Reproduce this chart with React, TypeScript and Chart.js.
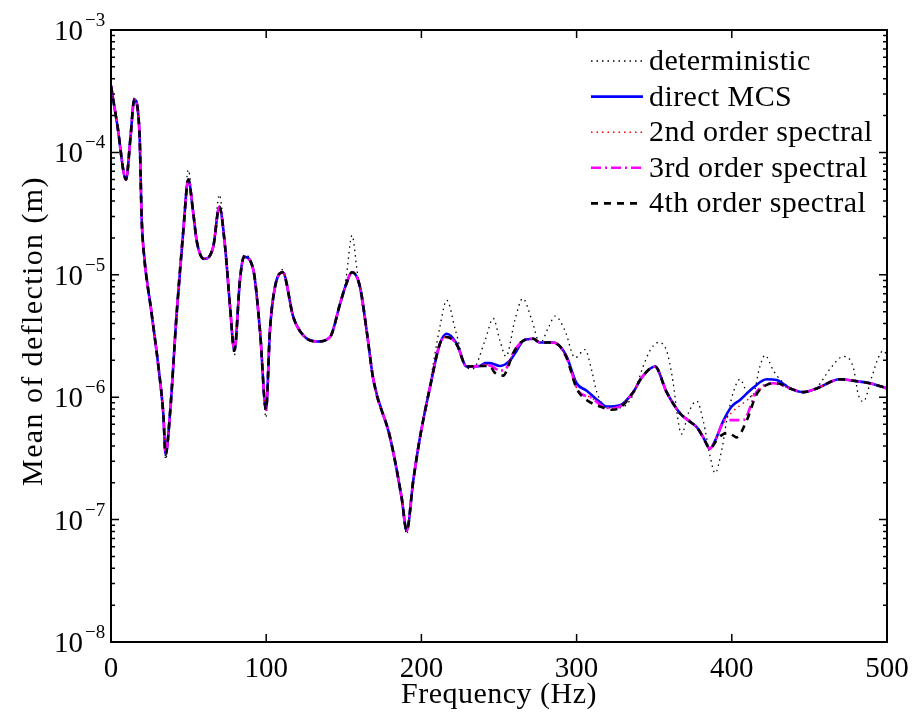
import React, { useEffect, useRef } from "react";
import { Chart, registerables } from "chart.js";

Chart.register(...registerables);

// ---------- data (frequency in Hz, mean deflection in m) ----------
// common part of direct MCS and spectral solutions (0 - 212 Hz)
const lowFreq = [0, 4, 9.7, 12.5, 15, 18.3, 19.8, 20.8, 26.2, 30.5, 33.7, 35.2, 38, 42.3, 46.6, 49.8, 53, 55.2, 59.9, 65.9, 69.8, 73.5, 76.7, 79.5, 83.1, 85.7, 91.7, 96, 99.9, 102.4, 105.7, 110.6, 117.5, 123.9, 132.5, 141.1, 147.6, 151, 155.3, 160.4, 165, 169, 179.8, 187.3, 190.5, 194.8, 199.1, 205.5, 212];
const lowMean = [3.5e-4, 1.7e-4, 6e-5, 1.3e-4, 2.7e-4, 1.5e-4, 2.8e-5, 1.7e-5, 4.8e-6, 1.8e-6, 7.3e-7, 3.4e-7, 7.3e-7, 4.8e-6, 2.3e-5, 6e-5, 3.2e-5, 1.9e-5, 1.35e-5, 1.7e-5, 3.6e-5, 1.7e-5, 5.5e-6, 2.4e-6, 9.1e-6, 1.4e-5, 1.1e-5, 3.5e-6, 7.9e-7, 3.5e-6, 8e-6, 1.05e-5, 4.5e-6, 3.2e-6, 2.85e-6, 3.1e-6, 5.8e-6, 8e-6, 1.05e-5, 8e-6, 3.3e-6, 1.4e-6, 4.7e-7, 1.5e-7, 8.1e-8, 2.1e-7, 4.7e-7, 1.2e-6, 2.75e-6];

const mcsTailFreq = [216.3, 222.7, 229.2, 237.8, 241, 244.2, 250.6, 257.1, 261.4, 265.7, 272.1, 276.4, 285, 289.3, 293.6, 300, 306.5, 315.1, 319.4, 328, 336.5, 342, 350.5, 358, 366.6, 373.1, 377.4, 381.6, 385.9, 390.2, 394.5, 399.9, 405.3, 413.9, 422.5, 428.9, 437.5, 446.1, 454.7, 469.7, 480.5, 489, 500];
const mcsTail = [3.3e-6, 2.75e-6, 1.78e-6, 1.8e-6, 1.9e-6, 1.9e-6, 1.8e-6, 2e-6, 2.4e-6, 2.9e-6, 3e-6, 2.8e-6, 2.8e-6, 2.6e-6, 2.15e-6, 1.3e-6, 1.13e-6, 9.1e-7, 8.4e-7, 8.6e-7, 1.1e-6, 1.45e-6, 1.78e-6, 1.1e-6, 7.4e-7, 6.3e-7, 5.7e-7, 4.7e-7, 3.8e-7, 4.7e-7, 6.4e-7, 8.4e-7, 9.5e-7, 1.2e-6, 1.4e-6, 1.38e-6, 1.18e-6, 1.1e-6, 1.18e-6, 1.4e-6, 1.35e-6, 1.3e-6, 1.18e-6];

const secondTailFreq = [216.3, 222.7, 229.2, 237.8, 241, 245, 250.6, 255, 259.2, 265.7, 272.1, 276.4, 285, 289.3, 293.6, 301.6, 309.1, 315.1, 322, 328, 336.5, 342, 350.5, 358, 366.6, 373.1, 377.4, 381.6, 385.9, 390.2, 395.5, 400, 405, 410, 415.9, 426.7, 437.5, 446.1, 454.7, 469.7, 480.5, 489, 500];
const secondTail = [3.1e-6, 2.7e-6, 1.78e-6, 1.8e-6, 1.85e-6, 1.8e-6, 1.65e-6, 1.75e-6, 2.3e-6, 2.9e-6, 3e-6, 2.8e-6, 2.8e-6, 2.6e-6, 2.1e-6, 1.1e-6, 1e-6, 8.7e-7, 8.1e-7, 8.4e-7, 1.1e-6, 1.45e-6, 1.78e-6, 1.1e-6, 7.4e-7, 6.3e-7, 5.7e-7, 4.7e-7, 3.8e-7, 4.7e-7, 6.4e-7, 7.5e-7, 8.5e-7, 9.5e-7, 1.1e-6, 1.3e-6, 1.18e-6, 1.1e-6, 1.18e-6, 1.4e-6, 1.35e-6, 1.3e-6, 1.18e-6];

const thirdTailFreq = [216.3, 222.7, 229.2, 237.8, 241, 245, 250.6, 255, 259.2, 265.7, 272.1, 276.4, 285, 289.3, 293.6, 301.6, 309.1, 315.1, 322, 328, 336.5, 342, 350.5, 358, 366.6, 373.1, 377.4, 381.6, 385.9, 390.2, 395.5, 401, 407.3, 415.9, 426.7, 437.5, 446.1, 454.7, 469.7, 480.5, 489, 500];
const thirdTail = [3.1e-6, 2.7e-6, 1.78e-6, 1.8e-6, 1.85e-6, 1.8e-6, 1.65e-6, 1.75e-6, 2.3e-6, 2.9e-6, 3e-6, 2.8e-6, 2.8e-6, 2.6e-6, 2.1e-6, 1.1e-6, 1e-6, 8.7e-7, 8.1e-7, 8.4e-7, 1.1e-6, 1.45e-6, 1.78e-6, 1.1e-6, 7.4e-7, 6.3e-7, 5.7e-7, 4.7e-7, 3.8e-7, 4.7e-7, 6.5e-7, 6.5e-7, 6.5e-7, 1.1e-6, 1.3e-6, 1.18e-6, 1.1e-6, 1.18e-6, 1.4e-6, 1.35e-6, 1.3e-6, 1.18e-6];

const fourthTailFreq = [216.3, 222.7, 229.2, 237.8, 244.2, 247, 252.8, 255, 259.2, 265.7, 272.1, 276.4, 285, 289.3, 293.6, 300, 306.5, 315.1, 322.6, 328, 336.5, 342, 350.5, 358, 366.6, 373.1, 377.4, 381.6, 385.9, 390, 393.5, 397.6, 400.5, 403, 409.5, 415.9, 422.5, 428.9, 437.5, 446.1, 454.7, 469.7, 480.5, 489, 500];
const fourthTail = [3.1e-6, 2.7e-6, 1.78e-6, 1.8e-6, 1.8e-6, 1.6e-6, 1.5e-6, 1.66e-6, 2.3e-6, 2.9e-6, 3e-6, 2.8e-6, 2.8e-6, 2.6e-6, 2.1e-6, 1.18e-6, 9.5e-7, 8.4e-7, 7.9e-7, 8.2e-7, 1.1e-6, 1.45e-6, 1.78e-6, 1.1e-6, 7.4e-7, 6.3e-7, 5.7e-7, 4.7e-7, 3.8e-7, 4.4e-7, 4.9e-7, 5.1e-7, 4.9e-7, 4.7e-7, 6.4e-7, 1.05e-6, 1.26e-6, 1.3e-6, 1.18e-6, 1.1e-6, 1.18e-6, 1.4e-6, 1.35e-6, 1.3e-6, 1.18e-6];

const detFreq = [0, 4, 9.7, 12.5, 15, 18.3, 19.8, 20.8, 26.2, 30.5, 33.7, 35.2, 38, 42.3, 46.6, 49.8, 53, 55.2, 59.9, 65.9, 69.8, 73.5, 76.7, 79.5, 83.1, 85.7, 91.7, 96, 99.9, 102.4, 105.7, 110.6, 117.5, 123.9, 132.5, 141.1, 147.6, 151.5, 155.3, 158.5, 162, 165, 169, 179.8, 187.3, 190.5, 194.8, 199.1, 205.5, 212, 216.3, 222, 229.2, 233, 241, 246.3, 250.6, 254.5, 260.3, 265.3, 271.1, 276.4, 281.8, 286.1, 292.5, 299, 305.4, 309.7, 313, 320, 328, 336.5, 343, 347.3, 352.6, 358, 361.3, 367.7, 372, 377.4, 381.6, 386, 389.2, 393.5, 396.7, 401, 405.3, 409.6, 413, 418.2, 421.4, 426.7, 431, 437.5, 446, 454.7, 463.3, 471.8, 478.3, 481.5, 484.7, 490.1, 494.4, 497.6, 500];
const detMean = [3.5e-4, 1.7e-4, 6e-5, 1.3e-4, 2.8e-4, 1.5e-4, 2.8e-5, 1.7e-5, 4.8e-6, 1.8e-6, 7e-7, 3.1e-7, 7e-7, 4.8e-6, 2.4e-5, 7.2e-5, 3.3e-5, 1.9e-5, 1.35e-5, 1.75e-5, 4.5e-5, 1.7e-5, 5.3e-6, 2.2e-6, 9.1e-6, 1.45e-5, 1.1e-5, 3.4e-6, 6.8e-7, 3.5e-6, 8e-6, 1.1e-5, 4.5e-6, 3.2e-6, 2.85e-6, 3.1e-6, 5.8e-6, 9.5e-6, 2.1e-5, 1.1e-5, 5.5e-6, 3.3e-6, 1.4e-6, 4.7e-7, 1.45e-7, 7.6e-8, 2.1e-7, 4.7e-7, 1.3e-6, 3.8e-6, 6.2e-6, 3.5e-6, 1.75e-6, 1.7e-6, 2.9e-6, 4.4e-6, 2.9e-6, 2.15e-6, 4.3e-6, 6.4e-6, 4.3e-6, 2.75e-6, 3.7e-6, 4.6e-6, 3.5e-6, 2.1e-6, 2.45e-6, 1.66e-6, 1.1e-6, 8.2e-7, 8.2e-7, 1.05e-6, 1.8e-6, 2.4e-6, 2.8e-6, 2.4e-6, 1.55e-6, 5e-7, 7.4e-7, 9.3e-7, 6.4e-7, 3.3e-7, 2.4e-7, 3.7e-7, 6.4e-7, 1.1e-6, 1.4e-6, 1.1e-6, 1e-6, 1.8e-6, 2.2e-6, 1.66e-6, 1.4e-6, 1.2e-6, 1.1e-6, 1.2e-6, 1.7e-6, 2.15e-6, 1.75e-6, 1.05e-6, 9.2e-7, 1.45e-6, 2.1e-6, 2.4e-6, 2.2e-6];

const seriesLabels = ["deterministic", "direct MCS", "2nd order spectral", "3rd order spectral", "4th order spectral"];
const xTicks = [0, 100, 200, 300, 400, 500];
const yExponents = [-3, -4, -5, -6, -7, -8];
const xTitle = "Frequency (Hz)";
const yTitle = "Mean of deflection (m)";

const FONT = '"Liberation Serif", "Times New Roman", serif';

function pts(f: number[], v: number[]) {
  return f.map((x, i) => ({ x, y: v[i] }));
}

const decorPlugin = {
  id: "decor",
  afterDraw(chart: any) {
    const ctx = chart.ctx;
    const a = chart.chartArea;
    const xs = chart.scales.x;
    const ys = chart.scales.y;
    ctx.save();
    ctx.setLineDash([]);
    ctx.strokeStyle = "#000";
    ctx.fillStyle = "#000";
    // frame
    ctx.lineWidth = 2;
    ctx.strokeRect(a.left, a.top, a.right - a.left, a.bottom - a.top);
    // x ticks
    ctx.lineWidth = 1.5;
    ctx.font = `29px ${FONT}`;
    ctx.textAlign = "center";
    ctx.textBaseline = "alphabetic";
    xTicks.forEach((v) => {
      const px = xs.getPixelForValue(v);
      ctx.beginPath();
      ctx.moveTo(px, a.bottom);
      ctx.lineTo(px, a.bottom - 8);
      ctx.moveTo(px, a.top);
      ctx.lineTo(px, a.top + 8);
      ctx.stroke();
      ctx.fillText(String(v), px, a.bottom + 35);
    });
    // y ticks (major + minor)
    yExponents.forEach((e) => {
      const base = Math.pow(10, e);
      const py = ys.getPixelForValue(base);
      ctx.beginPath();
      ctx.moveTo(a.left, py);
      ctx.lineTo(a.left + 8, py);
      ctx.moveTo(a.right, py);
      ctx.lineTo(a.right - 8, py);
      ctx.stroke();
      if (e < -3) {
        for (let k = 2; k <= 9; k++) {
          const pm = ys.getPixelForValue(k * base);
          ctx.beginPath();
          ctx.moveTo(a.left, pm);
          ctx.lineTo(a.left + 4, pm);
          ctx.moveTo(a.right, pm);
          ctx.lineTo(a.right - 4, pm);
          ctx.stroke();
        }
      }
      // label 10^e
      ctx.textAlign = "right";
      ctx.font = `29px ${FONT}`;
      ctx.fillText("10", a.left - 28, py + 10);
      ctx.textAlign = "left";
      ctx.font = `19px ${FONT}`;
      ctx.fillText("\u2212" + String(-e), a.left - 26, py - 4);
    });
    // titles
    ctx.font = `30px ${FONT}`;
    ctx.textAlign = "center";
    (ctx as any).letterSpacing = "0.5px";
    ctx.fillText(xTitle, (a.left + a.right) / 2, a.bottom + 61);
    ctx.save();
    (ctx as any).letterSpacing = "1.4px";
    ctx.translate(a.left - 69, (a.top + a.bottom) / 2 - 5);
    ctx.rotate(-Math.PI / 2);
    ctx.fillText(yTitle, 0, 0);
    ctx.restore();
    // legend
    const lx = a.right - 296;
    const ly = a.top + 31;
    ctx.font = `30px ${FONT}`;
    ctx.textAlign = "left";
    (ctx as any).letterSpacing = "0.4px";
    chart.data.datasets.forEach((ds: any, i: number) => {
      const y = ly + i * 35.6;
      ctx.save();
      ctx.strokeStyle = ds.borderColor;
      ctx.lineWidth = ds.borderWidth;
      ctx.setLineDash(ds.borderDash || []);
      ctx.beginPath();
      ctx.moveTo(lx, y);
      ctx.lineTo(lx + 52, y);
      ctx.stroke();
      ctx.restore();
      ctx.fillText(ds.label, lx + 58, y + 9);
    });
    (ctx as any).letterSpacing = "0px";
    ctx.restore();
  },
};

export default function App() {
  const ref = useRef<HTMLCanvasElement>(null);
  useEffect(() => {
    if (!ref.current) return;
    const common = { pointRadius: 0, fill: false, cubicInterpolationMode: "monotone" as const };
    const chart = new Chart(ref.current, {
      type: "line",
      data: {
        datasets: [
          { ...common, label: seriesLabels[0], data: pts(detFreq, detMean), borderColor: "#000000", borderWidth: 1.3, borderDash: [1.5, 4], order: 4 },
          { ...common, label: seriesLabels[1], data: pts([...lowFreq, ...mcsTailFreq], [...lowMean, ...mcsTail]), borderColor: "#0000ff", borderWidth: 2.6, borderDash: [], order: 3 },
          { ...common, label: seriesLabels[2], data: pts([...lowFreq, ...secondTailFreq], [...lowMean, ...secondTail]), borderColor: "#ff0000", borderWidth: 1.5, borderDash: [1.5, 4], order: 2 },
          { ...common, label: seriesLabels[3], data: pts([...lowFreq, ...thirdTailFreq], [...lowMean, ...thirdTail]), borderColor: "#ff00ff", borderWidth: 2.6, borderDash: [10, 4, 2, 4], order: 1 },
          { ...common, label: seriesLabels[4], data: pts([...lowFreq, ...fourthTailFreq], [...lowMean, ...fourthTail]), borderColor: "#000000", borderWidth: 2.6, borderDash: [7, 6], order: 0 },
        ],
      },
      options: {
        animation: false,
        responsive: false,
        maintainAspectRatio: false,
        layout: { padding: { left: 0, top: 30, right: 28, bottom: 0 } },
        plugins: { legend: { display: false }, tooltip: { enabled: false } },
        scales: {
          x: {
            type: "linear",
            min: 0,
            max: 500,
            grid: { display: false },
            border: { display: false },
            ticks: { display: false },
            afterFit: (s: any) => { s.height = 72; },
          },
          y: {
            type: "logarithmic",
            min: 1e-8,
            max: 1e-3,
            grid: { display: false },
            border: { display: false },
            ticks: { display: false },
            afterFit: (s: any) => { s.width = 111; },
          },
        },
      },
      plugins: [decorPlugin],
    });
    return () => chart.destroy();
  }, []);
  return (
    <div style={{ position: "fixed", left: 0, top: 0, width: 915, height: 714, background: "#fff" }}>
      <canvas ref={ref} width={915} height={714} />
    </div>
  );
}
